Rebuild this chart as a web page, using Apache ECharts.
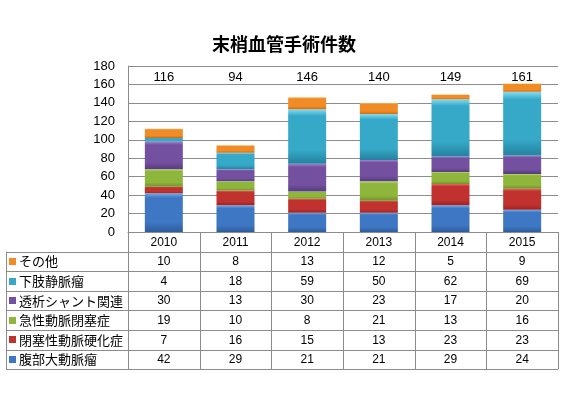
<!DOCTYPE html>
<html><head><meta charset="utf-8">
<script src="https://cdn.jsdelivr.net/npm/echarts@6/dist/echarts.min.js"></script>
<style>html,body{margin:0;padding:0;background:#fff}#c{width:575px;height:393px}</style>
</head><body><div id="c"></div>
<script>
// ---- data ----
const chartTitle = '末梢血管手術件数';
const years = ['2010', '2011', '2012', '2013', '2014', '2015'];
const totals = ['116', '94', '146', '140', '149', '161'];
const seriesNames = ['腹部大動脈瘤', '閉塞性動脈硬化症', '急性動脈閉塞症', '透析シャント関連', '下肢静脈瘤', 'その他'];
const abdominalAneurysm = [42, 29, 21, 21, 29, 24];
const arteriosclerosis = [7, 16, 15, 13, 23, 23];
const acuteOcclusion = [19, 10, 8, 21, 13, 16];
const shuntRelated = [30, 13, 30, 23, 17, 20];
const varicoseVeins = [4, 18, 59, 50, 62, 69];
const others = [10, 8, 13, 12, 5, 9];
const yMin = 0, yMax = 180, yStep = 20;

const seriesData = [abdominalAneurysm, arteriosclerosis, acuteOcclusion, shuntRelated, varicoseVeins, others];
// [top highlight, body, bottom]
const palette = [
  ['#76a9e6', '#3e77c3', '#2d5c9c'],
  ['#e86a62', '#c1322f', '#9c2322'],
  ['#bddb78', '#8fb63c', '#6e9129'],
  ['#a283c9', '#7451a0', '#573b7e'],
  ['#86dcef', '#36a8c8', '#24819e'],
  ['#fbbb73', '#f18b26', '#d06c0f']
];
const solid = palette.map(p => p[1]);

// ---- layout ----
const GL = 128, GR = 558, GT = 66, GB = 232;
const W = 575, H = 393;
const rowH = 19.6, tableLeft = 6;
const LINE = '#8c8c8c';
const NUMFONT = '"Liberation Sans", Arial, sans-serif';
const JPFONT = '"Noto Sans CJK JP", sans-serif';

const chart = echarts.init(document.getElementById('c'), null, {renderer: 'canvas'});

function grad(p) {
  return new echarts.graphic.LinearGradient(0, 0, 0, 1, [
    {offset: 0, color: p[0]},
    {offset: 0.12, color: p[1]},
    {offset: 0.75, color: p[1]},
    {offset: 1, color: p[2]}
  ]);
}

const series = seriesData.map((d, i) => ({
  name: seriesNames[i],
  type: 'bar',
  stack: 'total',
  data: d,
  barWidth: 38,
  itemStyle: {color: grad(palette[i])},
  emphasis: {disabled: true}
}));

// ---- table graphics ----
function buildTable() {
  const g = [];
  const n = years.length;
  const colW = (GR - GL) / n;
  const rows = seriesNames.slice().reverse();
  const rowData = seriesData.slice().reverse();
  const rowCols = solid.slice().reverse();
  const tableTop = GB + rowH;          // first data row top
  const tableBottom = tableTop + rows.length * rowH;
  const lineStyle = {stroke: LINE, lineWidth: 1};
  const hl = (x1, y, x2) => g.push({type: 'line', silent: true, shape: {x1, y1: Math.round(y) + 0.5, x2, y2: Math.round(y) + 0.5}, style: lineStyle});
  const vl = (x, y1, y2) => g.push({type: 'line', silent: true, shape: {x1: Math.round(x) + 0.5, y1, x2: Math.round(x) + 0.5, y2}, style: lineStyle});
  for (let r = 0; r <= rows.length; r++) hl(tableLeft, tableTop + r * rowH, GR);
  vl(tableLeft, tableTop, tableBottom);
  for (let c = 0; c <= n; c++) vl(GL + c * colW, GB, tableBottom);
  rows.forEach((name, r) => {
    const cy = tableTop + r * rowH + rowH / 2;
    g.push({type: 'rect', silent: true, shape: {x: 9, y: Math.round(cy - 3.5), width: 7, height: 7}, style: {fill: rowCols[r]}});
    g.push({type: 'text', silent: true, x: 19, y: cy, style: {text: name, fill: '#000', font: '13px ' + JPFONT, verticalAlign: 'middle', align: 'left'}});
    rowData[r].forEach((v, c) => {
      g.push({type: 'text', silent: true, x: GL + (c + 0.5) * colW, y: cy + 0.5, style: {text: String(v), fill: '#000', font: '12px ' + NUMFONT, verticalAlign: 'middle', align: 'center'}});
    });
  });
  return g;
}

const option = {
  animation: false,
  backgroundColor: '#fff',
  title: {
    text: chartTitle,
    left: 207, top: 30,
    textStyle: {fontFamily: JPFONT, fontSize: 18, fontWeight: 'bold', color: '#000'}
  },
  grid: {left: GL, right: W - GR, top: GT, bottom: H - GB, containLabel: false},
  xAxis: [{
    type: 'category', data: years, position: 'bottom',
    axisLine: {show: true, lineStyle: {color: LINE}},
    axisTick: {show: false},
    axisLabel: {fontFamily: NUMFONT, fontSize: 12, color: '#000', margin: 5}
  }, {
    type: 'category', data: totals, position: 'top',
    axisLine: {show: false}, axisTick: {show: false},
    axisLabel: {inside: true, fontFamily: NUMFONT, fontSize: 13, color: '#000', margin: 5}
  }],
  yAxis: {
    type: 'value', min: yMin, max: yMax, interval: yStep,
    axisLine: {show: true, lineStyle: {color: LINE}},
    axisTick: {show: false},
    splitLine: {lineStyle: {color: LINE}},
    axisLabel: {fontFamily: NUMFONT, fontSize: 13, color: '#000', margin: 13}
  },
  series: series,
  graphic: buildTable()
};
chart.setOption(option);
</script>
</body></html>
